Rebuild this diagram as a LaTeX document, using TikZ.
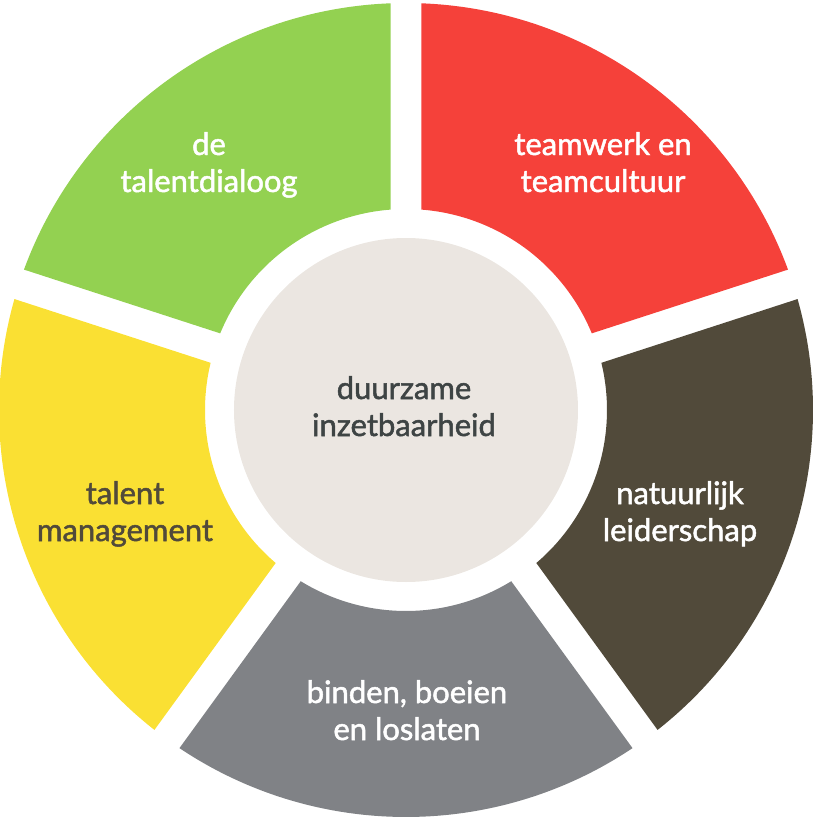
\documentclass[tikz,border=0pt]{standalone}
\usepackage{fontspec}
\newfontfamily\labelfont{Lato}[FakeBold=1.6]

\definecolor{tgreen}{HTML}{93D151}
\definecolor{tred}{HTML}{F5413A}
\definecolor{tbrown}{HTML}{514A3A}
\definecolor{tgrey}{HTML}{808286}
\definecolor{tyellow}{HTML}{FAE033}
\definecolor{tcentre}{HTML}{EBE6E1}
\definecolor{tdark}{HTML}{3E4444}

% outer radius, inner radius, offsets of the gaps
\newcommand{\Rout}{407}
\newcommand{\Rin}{201}
\newcommand{\dOut}{2.18}
\newcommand{\dIn}{4.42}

\tikzset{
  segtext/.style={font=\labelfont\fontsize{31}{37}\selectfont, align=center, anchor=base, text=white},
}

\begin{document}
\begin{tikzpicture}[x=1pt,y=1pt]
\useasboundingbox (-406,-410) rectangle (406,410);

\foreach \a/\b/\col in {18/90/tred, -54/18/tbrown, -126/-54/tgrey, -198/-126/tyellow, 90/162/tgreen}{
  \fill[\col] (\a+\dOut:\Rout) arc[start angle=\a+\dOut, end angle=\b-\dOut, radius=\Rout]
    -- (\b-\dIn:\Rin) arc[start angle=\b-\dIn, end angle=\a+\dIn, radius=\Rin] -- cycle;
}

\fill[tcentre] (0,0) circle (172);

\node[segtext] (dialoog) at (-197,218) {de\\talentdialoog};
\node[segtext] (teamwerk) at (197,218) {teamwerk en\\teamcultuur};
\node[segtext, text=tdark] (duurzaam) at (-2,-26) {duurzame\\inzetbaarheid};
\node[segtext, text=tbrown] (talent) at (-281,-131) {talent\\management};
\node[segtext] (leider) at (274,-131) {natuurlijk\\leiderschap};
\node[segtext] (binden) at (1,-330) {binden, boeien\\en loslaten};

\end{tikzpicture}
\end{document}
